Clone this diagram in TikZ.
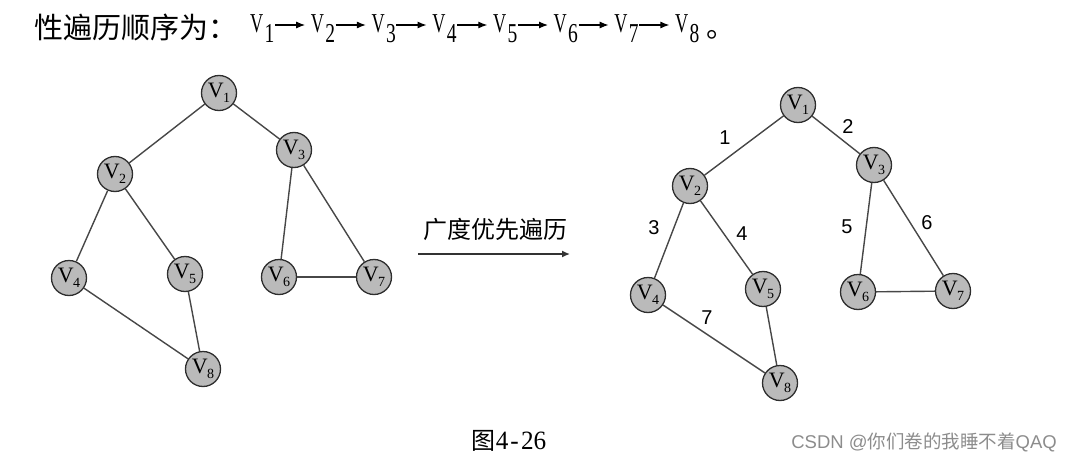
\documentclass[tikz,border=0pt]{standalone}
\usepackage{fontspec}
\usetikzlibrary{arrows.meta}
\setmainfont{Liberation Serif}
\setsansfont{Liberation Sans}
\newfontfamily\cjk{Noto Sans CJK SC}
\newcommand\vl[1]{V\kern-0.5pt\raisebox{-4.5pt}{\fontsize{14}{14}\selectfont #1}}
\newcommand\tv[1]{\makebox[14.5pt][l]{\scalebox{0.7}[1.05]{V}}\raisebox{-10pt}{\scalebox{0.75}[1.05]{#1}}}
\begin{document}
\begin{tikzpicture}[x=1pt,y=-1pt,
  vtx/.style={circle,draw=black!82,fill=black!27,line width=1.3pt,minimum size=35pt,inner sep=0pt,font=\fontsize{22}{22}\selectfont},
  edge/.style={draw=black!72,line width=1.4pt},
  num/.style={font=\sffamily\fontsize{20}{20}\selectfont,inner sep=0pt},
  tvx/.style={anchor=base west,inner sep=0pt,font=\fontsize{26}{26}\selectfont},
  tarr/.style={line width=1.2pt,-{Latex[length=9pt,width=7pt]}}]
\useasboundingbox (0,0) rectangle (1072,463);
% title
\node[anchor=west,inner sep=0pt,font=\cjk\fontsize{29}{29}\selectfont] (tt) at (34,27.5) {性遍历顺序为：};
\node[tvx] (v1) at (250,32) {\tv1};
\node[tvx] (v2) at (310.7,32) {\tv2};
\node[tvx] (v3) at (371.4,32) {\tv3};
\node[tvx] (v4) at (432.1,32) {\tv4};
\node[tvx] (v5) at (492.8,32) {\tv5};
\node[tvx] (v6) at (553.5,32) {\tv6};
\node[tvx] (v7) at (614.2,32) {\tv7};
\node[tvx] (v8) at (674.9,32) {\tv8};
\node[anchor=base west,inner sep=0pt,font=\cjk\fontsize{29}{29}\selectfont] (dot) at (706,37) {。};
\foreach \i/\j in {v1/v2,v2/v3,v3/v4,v4/v5,v5/v6,v6/v7,v7/v8}
  \draw[tarr] ([shift={(25,-7)}]\i.base west) -- ([shift={(-5.5,-7)}]\j.base west);
% left graph
\node[vtx] (a1) at (219,93) {\vl1};
\node[vtx] (a2) at (115,174) {\vl2};
\node[vtx] (a3) at (294,150) {\vl3};
\node[vtx] (a4) at (69,278) {\vl4};
\node[vtx] (a5) at (185,274) {\vl5};
\node[vtx] (a6) at (279,277) {\vl6};
\node[vtx] (a7) at (374,277) {\vl7};
\node[vtx] (a8) at (203,369) {\vl8};
\draw[edge] (a1)--(a2); \draw[edge] (a1)--(a3);
\draw[edge] (a2)--(a4); \draw[edge] (a2)--(a5);
\draw[edge] (a3)--(a6); \draw[edge] (a3)--(a7);
\draw[edge] (a6)--(a7); \draw[edge] (a4)--(a8); \draw[edge] (a5)--(a8);
% arrow
\coordinate (s) at (418,254);
\coordinate (t) at (570,254);
\draw[line width=1.4pt,black!80,-{Latex[length=8pt,width=7pt]}] (s)--(t);
\node[font=\cjk\fontsize{24}{24}\selectfont] (lab) at (495,229) {广度优先遍历};
% right graph
\node[vtx] (b1) at (798,105) {\vl1};
\node[vtx] (b2) at (690,186) {\vl2};
\node[vtx] (b3) at (874,165) {\vl3};
\node[vtx] (b4) at (648,295) {\vl4};
\node[vtx] (b5) at (763,289) {\vl5};
\node[vtx] (b6) at (858,292) {\vl6};
\node[vtx] (b7) at (953,291) {\vl7};
\node[vtx] (b8) at (780,383) {\vl8};
\draw[edge] (b1)--(b2); \draw[edge] (b1)--(b3);
\draw[edge] (b2)--(b4); \draw[edge] (b2)--(b5);
\draw[edge] (b3)--(b6); \draw[edge] (b3)--(b7);
\draw[edge] (b6)--(b7); \draw[edge] (b4)--(b8); \draw[edge] (b5)--(b8);
\node[num] (n1) at (725,138) {1};
\node[num] (n2) at (848,127) {2};
\node[num] (n3) at (654,228) {3};
\node[num] (n4) at (742,234) {4};
\node[num] (n5) at (847,227) {5};
\node[num] (n6) at (927,223) {6};
\node[num] (n7) at (707,318) {7};
% caption
\node[inner sep=0pt] (cap) at (509,441) {\fontsize{24}{24}\selectfont{\cjk 图}\scalebox{1.05}[1.1]{4\makebox[12pt]{-}26}};
\node[anchor=east,inner sep=0pt,text=black!45] (wm) at (1057,442) {\fontsize{18.5}{18.5}\selectfont{\sffamily CSDN @}{\cjk 你们卷的我睡不着}{\sffamily QAQ}};
\end{tikzpicture}
\end{document}
